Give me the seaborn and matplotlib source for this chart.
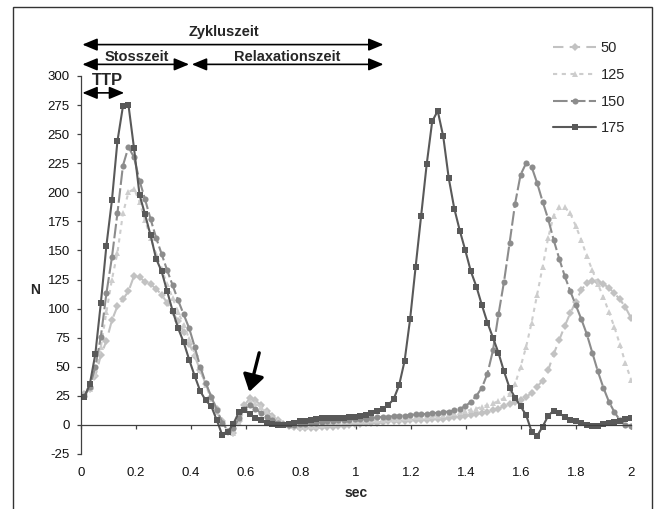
import numpy as np
import pandas as pd
import matplotlib
matplotlib.use("Agg")
import matplotlib.pyplot as plt
from matplotlib.patches import Rectangle
from matplotlib.ticker import FuncFormatter
import seaborn as sns

# ---- data -------------------------------------------------------------
time_sec = np.linspace(0.012, 2.0, 100)

series_names = ["50", "125", "150", "175"]

force_50 = [
    27, 31, 42, 60, 72, 90, 102, 108, 115, 128,
    127, 123, 121, 117, 112, 105, 97, 89, 80, 70,
    59, 47, 35, 24, 14, 3, -6, -7, 3, 17,
    23, 21, 17, 12, 8, 4, 1, -1, -2, -3,
    -3, -3, -2.5, -2, -2, -1.5, -1, -0.5, 0, 0.5,
    1, 1.5, 2, 2, 2.5, 3, 3, 3.5, 3.5, 4,
    4, 4.5, 4.5, 5, 5, 5.5, 6, 6.5, 7, 8,
    8.5, 9.5, 10.5, 11.5, 12.5, 14, 16, 18, 19.5, 21.5,
    24, 27.5, 33, 38, 47, 61, 73, 85, 96, 106,
    116, 122, 124, 123, 121, 118, 113, 108, 101, 92,
]
force_125 = [
    26, 31, 44, 67, 97, 125, 148, 182, 200, 203,
    192, 176, 161, 147, 134, 121, 109, 97, 86, 74,
    61, 47, 34, 22, 11, 1, -6, -7, 2, 14,
    20, 19, 15, 11, 7, 4, 2, 0, -1, -1.5,
    -1.5, -1, -0.5, 0, 0.5, 1, 1.5, 2, 2.5, 3,
    3, 3.5, 4, 4, 4.5, 5, 5, 5.5, 6, 6,
    6.5, 7, 7, 7.5, 8, 8.5, 9, 10, 11, 12,
    13, 14, 15.5, 17, 18.5, 20.5, 23, 27, 35, 50,
    67, 88, 112, 136, 161, 180, 187, 187, 182, 171,
    159, 145, 133, 121, 110, 97, 84, 69, 53, 39,
]
force_150 = [
    25, 33, 50, 76, 113, 144, 182, 223, 239, 230,
    210, 194, 177, 161, 147, 133, 120, 107, 95, 83,
    67, 50, 36, 24, 13, 2, -5, -3, 6, 14,
    17, 14, 10, 7, 4, 2, 1, 0, 0, 0.5,
    1, 1.5, 2, 2.5, 3, 3.5, 4, 4, 4.5, 5,
    5, 5.5, 6, 6.5, 7, 7, 7.5, 8, 8, 8.5,
    9, 9, 9.5, 10, 10.5, 11, 11.5, 12.5, 14, 16,
    20, 25, 32, 44, 64, 95, 123, 156, 190, 215,
    225, 222, 208, 192, 177, 159, 143, 128, 115, 103,
    91, 78, 62, 46, 32, 20, 11, 4, 0, -1,
]
force_175 = [
    24, 35, 61, 105, 154, 193, 244, 274, 275, 238,
    198, 181, 163, 143, 132, 115, 98, 83, 71, 56,
    42, 29, 21, 16, 4, -9, -6, 1, 11, 13,
    9, 6, 4, 2, 1, 0, 0, 1, 2, 3,
    3.5, 4, 5, 6, 6, 6, 6, 6, 6.5, 7,
    7.5, 8.5, 10, 12, 14, 17, 22, 34, 55, 91,
    136, 180, 224, 261, 270, 248, 212, 186, 167, 150,
    132, 119, 103, 88, 75, 62, 46, 32, 23.5, 16,
    8.6, -5.7, -9.5, -1.4, 7.8, 12.4, 10, 7, 4, 3,
    1.5, 0, -1, -0.5, 0.5, 1.5, 2.5, 3.5, 5, 6,
]

x_ticks = [0, 0.2, 0.4, 0.6, 0.8, 1.0, 1.2, 1.4, 1.6, 1.8, 2.0]
y_ticks = [-25, 0, 25, 50, 75, 100, 125, 150, 175, 200, 225, 250, 275, 300]

# ---- style -------------------------------------------------------------
sns.set_theme(style="white")
plt.rcParams["font.family"] = ["Liberation Sans", "DejaVu Sans"]

W, H = 660, 509
fig = plt.figure(figsize=(W / 100, H / 100), dpi=100)
ax_left, ax_right, ax_top, ax_bot = 81, 631, 76, 454
ax = fig.add_axes([ax_left / W, 1 - ax_bot / H, (ax_right - ax_left) / W, (ax_bot - ax_top) / H])

styles = {
    "50":  dict(color="#c2c2c2", marker="D", markersize=3.6, linestyle=(0, (5, 3))),
    "125": dict(color="#cdcdcd", marker="^", markersize=5.0, linestyle=(0, (2, 2.2))),
    "150": dict(color="#8c8c8c", marker="o", markersize=4.4, linestyle=(0, (7, 1.6))),
    "175": dict(color="#595959", marker="s", markersize=4.4, linestyle="-"),
}
values = {"50": force_50, "125": force_125, "150": force_150, "175": force_175}

for name in series_names:
    st = styles[name]
    sns.lineplot(x=time_sec, y=values[name], ax=ax, color=st["color"],
                 marker=st["marker"], markersize=st["markersize"],
                 markeredgewidth=0, linestyle=st["linestyle"], linewidth=1.5,
                 label=name)

ax.set_xlim(0, 2)
ax.set_ylim(-25, 300)

axis_col = "#404040"
for s in ["top", "right"]:
    ax.spines[s].set_visible(False)
ax.spines["left"].set_color(axis_col)
ax.spines["left"].set_linewidth(0.9)
ax.spines["bottom"].set_position(("data", 0))
ax.spines["bottom"].set_color(axis_col)
ax.spines["bottom"].set_linewidth(0.9)

ax.set_yticks(y_ticks)
ax.set_yticklabels([str(v) for v in y_ticks])
ax.set_xticks(x_ticks)
ax.tick_params(axis="x", direction="out", length=3, width=0.9, color=axis_col,
               labelbottom=False, bottom=True)
ax.tick_params(axis="y", direction="out", length=3, width=0.9, color=axis_col,
               labelsize=9.5, pad=5, left=True, labelcolor="#111111")
ax.grid(False)
ax.set_xlabel("")
ax.set_ylabel("")

sec = ax.secondary_xaxis("bottom")
sec.set_xticks(x_ticks)
sec.xaxis.set_major_formatter(FuncFormatter(lambda v, p: f"{v:g}"))
sec.tick_params(length=0, pad=9, labelsize=9.5, labelcolor="#111111")
sec.spines["bottom"].set_visible(False)

# axis titles
fig.text(356 / W, 1 - 493 / H, "sec", ha="center", va="center",
         fontsize=10, fontweight="bold")
fig.text(35 / W, 1 - 290 / H, "N", ha="center", va="center",
         fontsize=10, fontweight="bold")

# legend
handles, labels = ax.get_legend_handles_labels()
leg = ax.legend(handles, labels, loc="upper left",
                bbox_to_anchor=(553 / W, 1 - 41 / H), bbox_transform=fig.transFigure,
                frameon=False, fontsize=10.5, handlelength=2.95, handletextpad=0.3,
                labelspacing=0.88, borderpad=0, borderaxespad=0, numpoints=1)

# annotations above the plot
def dbl_arrow(x0, x1, y):
    ax.annotate("", xy=(x1, y), xytext=(x0, y), xycoords="data",
                arrowprops=dict(arrowstyle="<|-|>,head_length=0.6,head_width=0.25",
                                color="black", lw=1.2, shrinkA=0, shrinkB=0,
                                mutation_scale=15),
                annotation_clip=False)

dbl_arrow(0.005, 1.1, 327)
dbl_arrow(0.005, 0.393, 310)
dbl_arrow(0.403, 1.1, 310)
dbl_arrow(0.005, 0.157, 285.5)

ax.text(0.52, 337.5, "Zykluszeit", ha="center", va="center", fontsize=10.5,
        fontweight="bold", clip_on=False)
ax.text(0.203, 316, "Stosszeit", ha="center", va="center", fontsize=10.5,
        fontweight="bold", clip_on=False)
ax.text(0.748, 316, "Relaxationszeit", ha="center", va="center", fontsize=10.5,
        fontweight="bold", clip_on=False)
ax.text(0.095, 296, "TTP", ha="center", va="center", fontsize=12,
        fontweight="bold", clip_on=False)

# black arrow pointing at the dip
ax.annotate("", xy=(0.612, 28.5), xytext=(0.648, 62), xycoords="data",
            arrowprops=dict(arrowstyle="-|>,head_length=0.5,head_width=0.32",
                            color="black", lw=2.4, shrinkA=0, shrinkB=0,
                            mutation_scale=20))

# outer frame
fig.add_artist(Rectangle((13 / W, -0.02), (652 - 13) / W, 1.02 - 7 / H,
                         transform=fig.transFigure, fill=False,
                         edgecolor="#333333", linewidth=1.0))

fig.savefig("out.png", dpi=100)
